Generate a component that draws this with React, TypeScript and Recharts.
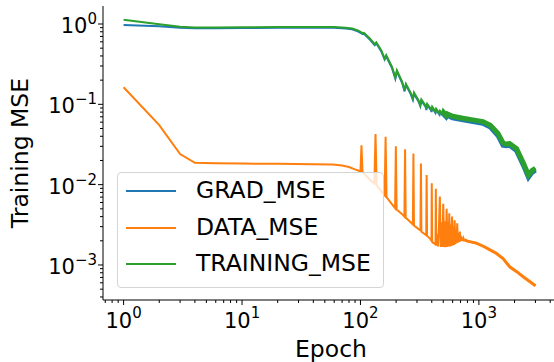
import React from "react";
import {
  ComposedChart,
  Line,
  XAxis,
  YAxis,
  Legend,
} from "recharts";

// [epoch, value]
const gradMse: [number, number][] = [
  [1, 0.97], [2, 0.935], [3, 0.9], [4, 0.886], [6, 0.884], [10, 0.89], [20, 0.895],
  [40, 0.9], [60, 0.895], [75, 0.88], [85, 0.86], [95, 0.81], [101, 0.77], [104, 0.75],
  [107, 0.755], [120, 0.64], [132, 0.545], [136, 0.575], [150, 0.455], [160, 0.36],
  [165, 0.395], [185, 0.28], [197, 0.208], [203, 0.257], [225, 0.184], [236, 0.145],
  [242, 0.174], [265, 0.135], [277, 0.114], [283, 0.135], [310, 0.108], [320, 0.095],
  [327, 0.111], [355, 0.093], [360, 0.085], [366, 0.098], [395, 0.084], [398, 0.08],
  [404, 0.09], [430, 0.078], [436, 0.085], [465, 0.074], [470, 0.08], [500, 0.072],
  [505, 0.076], [530, 0.07], [540, 0.073], [600, 0.068], [735, 0.064], [890, 0.061],
  [1080, 0.058], [1250, 0.052], [1450, 0.041], [1600, 0.031], [1700, 0.0305],
  [1820, 0.031], [2080, 0.0265], [2380, 0.0174], [2620, 0.0124], [2800, 0.0142],
  [3000, 0.0152],
];

const dataMse: [number, number][] = [
  [1, 0.163], [2, 0.055], [3, 0.024], [4, 0.0187], [6, 0.0185], [10, 0.0183],
  [20, 0.0182], [40, 0.018], [58, 0.0178], [70, 0.0173], [80, 0.0166], [90, 0.0155],
  [98, 0.0148], [100, 0.0146], [102, 0.031], [104, 0.0145], [112, 0.0128],
  [122, 0.0113], [131, 0.0103], [134, 0.0427], [137, 0.0098], [150, 0.0083],
  [160, 0.0074], [163, 0.0395], [166, 0.007], [185, 0.0057], [196, 0.0051],
  [199, 0.03], [202, 0.0049], [225, 0.0043], [235, 0.004], [238, 0.0275],
  [241, 0.0039], [265, 0.0034], [277, 0.0032], [280, 0.0245], [283, 0.0031],
  [310, 0.0028], [321, 0.0027], [324, 0.0184], [327, 0.0026], [352, 0.0024],
  [359, 0.00235], [362, 0.0132], [365, 0.0023], [390, 0.0021], [398, 0.002],
  [400, 0.0104], [403, 0.00195], [430, 0.0018], [433, 0.0089], [436, 0.00175],
  [444, 0.0024], [452, 0.0017], [460, 0.003], [468, 0.0071], [476, 0.00168],
  [484, 0.0034], [492, 0.00168], [500, 0.0058], [509, 0.00167], [517, 0.0035],
  [526, 0.00167], [534, 0.005], [542, 0.00168], [550, 0.0034], [556, 0.0017],
  [562, 0.0044], [570, 0.0017], [578, 0.0032], [585, 0.00172], [593, 0.004],
  [601, 0.00175], [609, 0.003], [616, 0.00178], [624, 0.0036], [632, 0.00182],
  [640, 0.0028], [648, 0.00186], [656, 0.0033], [664, 0.0019], [672, 0.0025],
  [680, 0.00193], [690, 0.0026], [698, 0.00196], [706, 0.0023], [714, 0.00198],
  [722, 0.0022], [730, 0.002], [740, 0.00215], [750, 0.00202], [760, 0.00205],
  [800, 0.00198], [950, 0.00187], [1100, 0.0017], [1240, 0.00154], [1400, 0.0014],
  [1600, 0.0012], [1820, 0.00095], [2100, 0.00082], [2380, 0.00071], [2700, 0.00062],
  [2960, 0.00056], [3000, 0.00055],
];

const trainingMse: [number, number][] = [
  [1, 1.13], [2, 0.99], [3, 0.925], [4, 0.905], [6, 0.905], [10, 0.91], [20, 0.915],
  [40, 0.92], [60, 0.915], [75, 0.9], [85, 0.88], [95, 0.83], [101, 0.79], [104, 0.77],
  [107, 0.775], [120, 0.66], [132, 0.56], [136, 0.59], [150, 0.47], [160, 0.37],
  [165, 0.41], [185, 0.29], [197, 0.215], [203, 0.265], [225, 0.19], [236, 0.15],
  [242, 0.18], [265, 0.14], [277, 0.118], [283, 0.14], [310, 0.112], [320, 0.098],
  [327, 0.115], [355, 0.096], [360, 0.088], [366, 0.101], [395, 0.087], [398, 0.083],
  [404, 0.093], [430, 0.081], [436, 0.088], [465, 0.077], [470, 0.083], [500, 0.075],
  [505, 0.079], [530, 0.073], [540, 0.076], [600, 0.071], [735, 0.067], [890, 0.064],
  [1080, 0.061], [1250, 0.055], [1450, 0.0435], [1600, 0.033], [1700, 0.032],
  [1820, 0.0325], [2080, 0.028], [2380, 0.0184], [2620, 0.0132], [2800, 0.015],
  [3000, 0.016],
];

// late epochs oscillate fast enough to show as a thick band
const BAND_FROM = 500;
const DATA_TAIL_FROM = 760;

const seriesNames = ["GRAD_MSE", "DATA_MSE", "TRAINING_MSE"];
const seriesColors = ["#1f77b4", "#ff7f0e", "#2ca02c"];

const xTicks = [
  0.7, 0.8, 0.9, 1, 2, 3, 4, 5, 6, 7, 8, 9, 10, 20, 30, 40, 50, 60, 70, 80, 90, 100,
  200, 300, 400, 500, 600, 700, 800, 900, 1000, 2000, 3000, 4000,
];
const yTicks = [
  0.0004, 0.0005, 0.0006, 0.0007, 0.0008, 0.0009, 0.001, 0.002, 0.003, 0.004, 0.005,
  0.006, 0.007, 0.008, 0.009, 0.01, 0.02, 0.03, 0.04, 0.05, 0.06, 0.07, 0.08, 0.09,
  0.1, 0.2, 0.3, 0.4, 0.5, 0.6, 0.7, 0.8, 0.9, 1,
];

const FONT = "DejaVu Sans";
const xDomain = [0.67, 4477];
const yDomain = [3.666e-4, 1.675];

const toRows = (pts: [number, number][]) => pts.map(([e, v]) => ({ e, v }));
const tail = (pts: [number, number][], from: number) => toRows(pts.filter(([e]) => e >= from));

const exponent = (v: number) => {
  const l = Math.log10(v);
  const r = Math.round(l);
  return Math.abs(l - r) < 1e-6 ? r : null;
};
const supText = (n: number) => (n < 0 ? "\u2212" + Math.abs(n) : String(n));

const XTick = (props: any) => {
  const { x, y, payload } = props;
  const p = exponent(payload.value);
  return (
    <g>
      <line x1={x} x2={x} y1={y} y2={y + (p !== null ? 5 : 3)} stroke="#000" strokeWidth={1} />
      {p !== null && (
        <text x={x} y={y + 28} textAnchor="middle" fontFamily={FONT} fontSize={21} fill="#000">
          <tspan>10</tspan>
          <tspan dy={-10} fontSize={15}>{supText(p)}</tspan>
        </text>
      )}
    </g>
  );
};

const YTick = (props: any) => {
  const { x, y, payload } = props;
  const p = exponent(payload.value);
  return (
    <g>
      <line x1={x - (p !== null ? 5 : 3)} x2={x} y1={y} y2={y} stroke="#000" strokeWidth={1} />
      {p !== null && (
        <text x={x - 6} y={y + 9} textAnchor="end" fontFamily={FONT} fontSize={21} fill="#000">
          <tspan>10</tspan>
          <tspan dy={-9} fontSize={15}>{supText(p)}</tspan>
        </text>
      )}
    </g>
  );
};

const LegendBox = () => (
  <div
    style={{
      position: "relative",
      width: 267,
      height: 116,
      boxSizing: "border-box",
      border: "1px solid #d4d4d4",
      borderRadius: 4,
      background: "rgba(255,255,255,0.8)",
      fontFamily: FONT,
      fontSize: 23.5,
      color: "#000",
    }}
  >
    {seriesNames.map((name, i) => (
      <div key={name} style={{ position: "absolute", left: 0, top: 19 + i * 36.5 - 1, width: "100%" }}>
        <div style={{ position: "absolute", left: 8, top: -1, width: 50, height: 2, background: seriesColors[i] }} />
        <div style={{ position: "absolute", left: 78, top: -15, lineHeight: "28px", whiteSpace: "nowrap" }}>{name}</div>
      </div>
    ))}
  </div>
);

export default function App() {
  return (
    <div style={{ position: "absolute", left: 0, top: 0, width: 554, height: 362, overflow: "hidden", background: "#fff" }}>
      <ComposedChart width={560} height={362} margin={{ top: 6, right: 4, bottom: 0, left: 8 }}>
        <XAxis
          dataKey="e"
          type="number"
          scale="log"
          domain={xDomain}
          allowDataOverflow
          ticks={xTicks}
          interval={0}
          tickSize={0}
          tickMargin={0}
          tickLine={false}
          tick={XTick}
          height={62}
          axisLine={{ stroke: "#000", strokeWidth: 1 }}
          label={{
            content: () => (
              <text x={331} y={357} textAnchor="middle" fontFamily={FONT} fontSize={23.5} fill="#000">
                Epoch
              </text>
            ),
          }}
        />
        <XAxis
          xAxisId="top"
          orientation="top"
          type="number"
          scale="log"
          domain={xDomain}
          allowDataOverflow
          height={0}
          tick={false}
          tickLine={false}
          axisLine={{ stroke: "#000", strokeWidth: 1 }}
        />
        <YAxis
          type="number"
          scale="log"
          domain={yDomain}
          allowDataOverflow
          ticks={yTicks}
          interval={0}
          tickSize={0}
          tickMargin={0}
          tickLine={false}
          tick={YTick}
          width={95}
          axisLine={{ stroke: "#000", strokeWidth: 1 }}
          label={{
            content: () => (
              <text
                x={28}
                y={153}
                transform="rotate(-90 28 153)"
                textAnchor="middle"
                fontFamily={FONT}
                fontSize={23.5}
                fill="#000"
              >
                Training MSE
              </text>
            ),
          }}
        />
        <Line data={toRows(gradMse)} dataKey="v" name={seriesNames[0]} type="linear" dot={false}
          stroke={seriesColors[0]} strokeWidth={2} isAnimationActive={false} />
        <Line data={tail(gradMse, BAND_FROM)} dataKey="v" type="linear" dot={false} legendType="none"
          stroke={seriesColors[0]} strokeWidth={5} isAnimationActive={false} />
        <Line data={toRows(dataMse)} dataKey="v" name={seriesNames[1]} type="linear" dot={false}
          stroke={seriesColors[1]} strokeWidth={2} isAnimationActive={false} />
        <Line data={tail(dataMse, DATA_TAIL_FROM)} dataKey="v" type="linear" dot={false} legendType="none"
          stroke={seriesColors[1]} strokeWidth={3} isAnimationActive={false} />
        <Line data={toRows(trainingMse)} dataKey="v" name={seriesNames[2]} type="linear" dot={false}
          stroke={seriesColors[2]} strokeWidth={2} isAnimationActive={false} />
        <Line data={tail(trainingMse, BAND_FROM)} dataKey="v" type="linear" dot={false} legendType="none"
          stroke={seriesColors[2]} strokeWidth={5} isAnimationActive={false} />
        <Legend
          layout="horizontal"
          verticalAlign="middle"
          align="center"
          content={LegendBox}
          wrapperStyle={{ position: "absolute", left: 117, top: 172, width: 267, height: 116, margin: 0, padding: 0 }}
        />
      </ComposedChart>
    </div>
  );
}
